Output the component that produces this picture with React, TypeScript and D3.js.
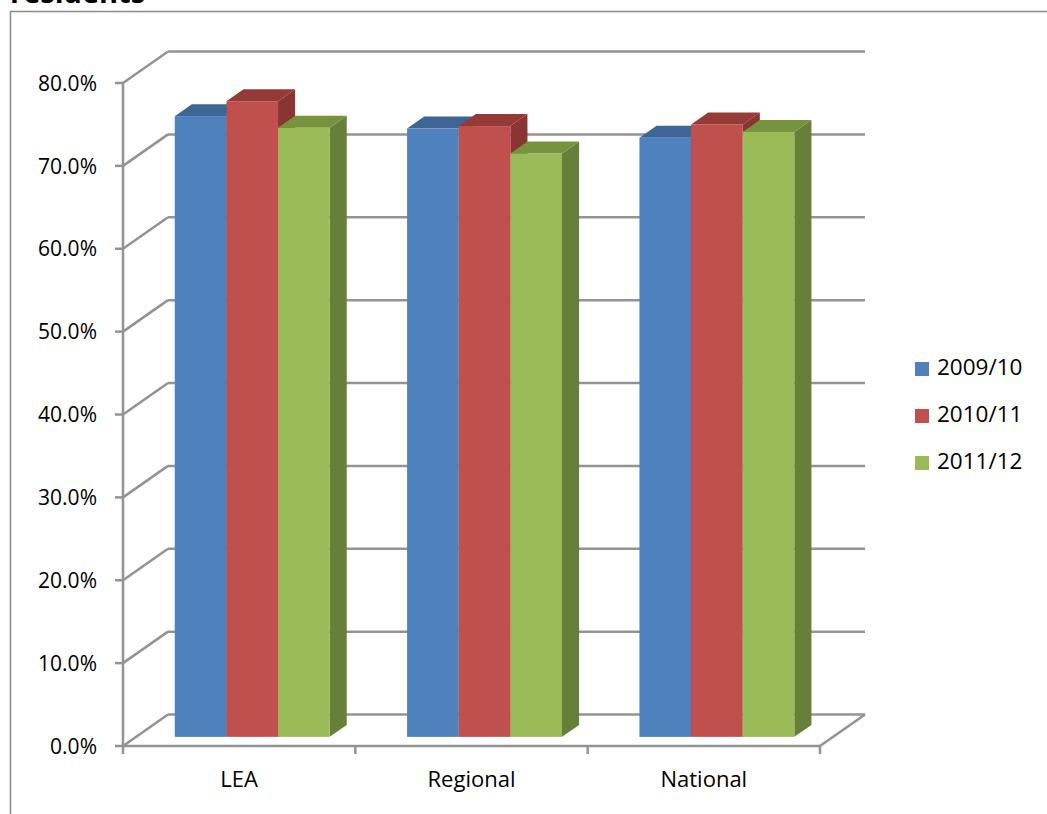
import React from "react";
import * as d3 from "d3";

const categories = ["LEA", "Regional", "National"];
const seriesNames = ["2009/10", "2010/11", "2011/12"];
const values2009 = [74.9, 73.4, 72.3];
const values2010 = [76.7, 73.7, 73.9];
const values2011 = [73.5, 70.4, 73.0];
const yTicks = [0, 10, 20, 30, 40, 50, 60, 70, 80];

const seriesValues = [values2009, values2010, values2011];
const faceColors = ["#4f81bd", "#c0504d", "#9bbb59"];
const topColors = ["#3d6596", "#953a37", "#77933d"];
const sideColors = ["#385d8a", "#8a3533", "#66803a"];

const W = 1047;
const H = 814;
const X0 = 123; // front-left x
const X1 = 820; // front-right x
const Y0 = 746; // front floor y (0%)
const Y80 = 83; // front 80% y
const DX = 45; // full depth offset
const DY = -31.5;
const F0 = 0.29; // bar front depth fraction
const BD = 0.38; // bar depth fraction
const FONT = "'Open Sans', sans-serif";
const GRID = "#939393";

export default function App() {
  const y = d3.scaleLinear().domain([0, 80]).range([Y0, Y80]);
  const xCat = d3.scaleBand().domain(categories).range([X0, X1]).padding(0);
  const slot = xCat.bandwidth();
  const xSer = d3
    .scaleBand()
    .domain(seriesNames)
    .range([slot / 6, (slot * 5) / 6])
    .padding(0);
  const bw = xSer.bandwidth();

  const fdx = F0 * DX;
  const fdy = F0 * DY;
  const bdx = BD * DX;
  const bdy = BD * DY;

  const bars: React.ReactNode[] = [];
  categories.forEach((c, ci) => {
    seriesNames.forEach((s, si) => {
      const v = seriesValues[si][ci];
      const xl = (xCat(c) as number) + (xSer(s) as number) + fdx;
      const xr = xl + bw;
      const yb = y(0) + fdy;
      const yt = y(v) + fdy;
      bars.push(
        <g key={`${ci}-${si}`}>
          <polygon
            points={`${xr},${yb} ${xr + bdx},${yb + bdy} ${xr + bdx},${yt + bdy} ${xr},${yt}`}
            fill={sideColors[si]}
          />
          <polygon
            points={`${xl},${yt} ${xl + bdx},${yt + bdy} ${xr + bdx},${yt + bdy} ${xr},${yt}`}
            fill={topColors[si]}
          />
          <rect x={xl} y={yt} width={bw} height={yb - yt} fill={faceColors[si]} />
        </g>
      );
    });
  });

  return (
    <svg
      width={W}
      height={H}
      style={{ position: "absolute", left: 0, top: 0 }}
      fontFamily={FONT}
    >
      <rect x={0} y={0} width={W} height={H} fill="#ffffff" />
      <text x={10} y={3} fontSize={29} fontWeight="bold" fill="#000">
        residents
      </text>
      {/* frame */}
      <path d={`M10.5,${H} L10.5,11.5 L${W},11.5`} fill="none" stroke="#8c8c8c" strokeWidth={1.5} />

      {/* back wall gridlines and left wall diagonals */}
      {yTicks.map((t) => (
        <g key={t}>
          <line x1={X0 + DX} y1={y(t) + DY} x2={X1 + DX} y2={y(t) + DY} stroke={GRID} strokeWidth={2.5} />
          <line x1={X0} y1={y(t)} x2={X0 + DX} y2={y(t) + DY} stroke={GRID} strokeWidth={2.5} />
          <line x1={X0 - 8} y1={y(t)} x2={X0} y2={y(t)} stroke={GRID} strokeWidth={2.5} />
          <text
            x={97}
            y={y(t) + 2}
            fontSize={21}
            textAnchor="end"
            dominantBaseline="middle"
            fill="#000"
          >
            {t.toFixed(1)}%
          </text>
        </g>
      ))}
      {/* front y axis */}
      <line x1={X0} y1={Y0} x2={X0} y2={Y80} stroke={GRID} strokeWidth={2.5} />
      {/* floor */}
      <line x1={X0} y1={Y0} x2={X1} y2={Y0} stroke={GRID} strokeWidth={2.5} />
      <line x1={X1} y1={Y0} x2={X1 + DX} y2={Y0 + DY} stroke={GRID} strokeWidth={2.5} />
      {/* x ticks */}
      {[...categories.map((c) => xCat(c) as number), X1].map((xt, i) => (
        <line key={i} x1={xt} y1={Y0} x2={xt} y2={Y0 + 8} stroke={GRID} strokeWidth={2.5} />
      ))}

      {bars}

      {/* category labels */}
      {categories.map((c) => (
        <text
          key={c}
          x={(xCat(c) as number) + slot / 2}
          y={787}
          fontSize={22}
          textAnchor="middle"
          fill="#000"
        >
          {c}
        </text>
      ))}

      {/* legend */}
      {seriesNames.map((s, i) => (
        <g key={s} transform={`translate(915, ${369 + i * 47})`}>
          <rect x={0} y={-7} width={14} height={14} fill={faceColors[i]} />
          <text x={22} y={0} fontSize={22.5} dominantBaseline="middle" fill="#000">
            {s}
          </text>
        </g>
      ))}
    </svg>
  );
}
